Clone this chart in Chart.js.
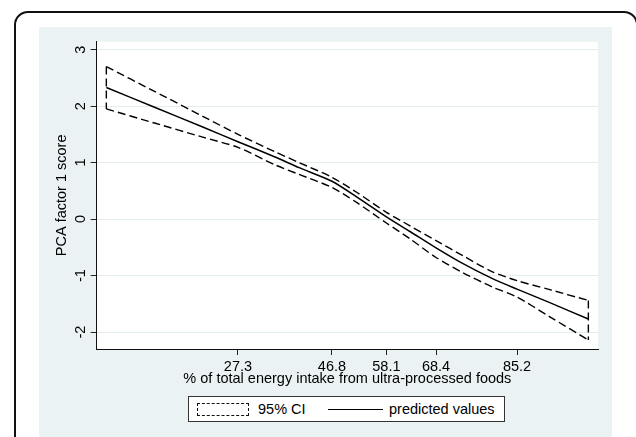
<!DOCTYPE html>
<html>
<head>
<meta charset="utf-8">
<script src="https://cdn.jsdelivr.net/npm/chart.js@4.4.1/dist/chart.umd.min.js"></script>
<style>
html,body{margin:0;padding:0;width:636px;height:437px;overflow:hidden;background:#fff;font-family:"Liberation Sans",Arial,sans-serif;}
#frame{position:absolute;left:14px;top:11px;width:624px;height:440px;box-sizing:border-box;border:2px solid #111;border-radius:14px;}
#panel{position:absolute;left:39px;top:27px;width:573px;height:420px;background:#eaf2f3;}
#c{position:absolute;left:0;top:0;}
#legend{position:absolute;left:188px;top:396px;width:317px;height:26px;box-sizing:border-box;border:1px solid #333;background:#fff;font-size:14.5px;color:#000;}
#legend .sym-ci{position:absolute;left:8px;top:6px;width:52px;height:13px;box-sizing:border-box;border:1px dashed #111;}
#legend .sym-pv{position:absolute;left:139px;top:12px;width:55px;height:0;border-top:1.4px solid #000;}
#legend .t{position:absolute;top:0;line-height:25px;white-space:nowrap;}
</style>
</head>
<body>
<div id="frame"></div>
<div id="panel"></div>
<canvas id="c" width="636" height="437"></canvas>
<div id="legend">
  <div class="sym-ci"></div><div class="t" style="left:69px">95% CI</div>
  <div class="sym-pv"></div><div class="t" style="left:200px">predicted values</div>
</div>
<script>
// ---- data ----
const xValues   = [0, 10, 20, 27.3, 35, 40, 46.8, 52, 58.1, 63, 68.4, 74, 80, 85.2, 92, 100];
const predicted = [2.33, 1.98, 1.63, 1.37, 1.10, 0.91, 0.67, 0.39, 0.04, -0.22, -0.51, -0.79, -1.05, -1.24, -1.48, -1.77];
const ciUpper   = [2.70, 2.26, 1.82, 1.50, 1.19, 1.00, 0.74, 0.47, 0.12, -0.12, -0.38, -0.65, -0.93, -1.09, -1.25, -1.44];
const ciLower   = [1.95, 1.70, 1.45, 1.27, 0.96, 0.79, 0.56, 0.29, -0.07, -0.35, -0.68, -0.95, -1.20, -1.38, -1.73, -2.14];
const xTickValues = [27.3, 46.8, 58.1, 68.4, 85.2];
const yTickValues = [-2, -1, 0, 1, 2, 3];
const xTitle = '% of total energy intake from ultra-processed foods';
const yTitle = 'PCA factor 1 score';

const FS = 14.5;
Chart.defaults.font.family = '"Liberation Sans", Arial, sans-serif';
Chart.defaults.font.size = FS;
Chart.defaults.color = '#000';

const pts = ys => xValues.map((x, i) => ({x: x, y: ys[i]}));
const last = xValues.length - 1;
const dash = [8, 4];
const lineStyle = {showLine: true, pointRadius: 0, borderColor: '#000', borderWidth: 1.4, fill: false, tension: 0.25};

const plotBg = {
  id: 'plotBg',
  beforeDraw(chart) {
    const a = chart.chartArea, ctx = chart.ctx;
    ctx.save(); ctx.fillStyle = '#fff';
    ctx.fillRect(a.left, a.top, a.right - a.left, a.bottom - a.top);
    ctx.restore();
  }
};
const rotY = {
  id: 'rotY',
  afterDraw(chart) {
    const s = chart.scales.y, ctx = chart.ctx;
    ctx.save();
    ctx.font = FS + 'px "Liberation Sans", Arial, sans-serif';
    ctx.fillStyle = '#000'; ctx.textAlign = 'center'; ctx.textBaseline = 'middle';
    s.ticks.forEach(t => {
      const py = s.getPixelForValue(t.value);
      ctx.save(); ctx.translate(s.right - 15.5, py); ctx.rotate(-Math.PI / 2);
      ctx.fillText(String(t.value), 0, 0); ctx.restore();
    });
    ctx.restore();
  }
};

new Chart(document.getElementById('c'), {
  type: 'scatter',
  data: {
    datasets: [
      Object.assign({label: '95% CI upper', data: pts(ciUpper), borderDash: dash}, lineStyle),
      Object.assign({label: '95% CI lower', data: pts(ciLower), borderDash: dash}, lineStyle),
      Object.assign({label: '95% CI start', data: [{x: xValues[0], y: ciUpper[0]}, {x: xValues[0], y: ciLower[0]}], borderDash: dash}, lineStyle, {tension: 0}),
      Object.assign({label: '95% CI end', data: [{x: xValues[last], y: ciUpper[last]}, {x: xValues[last], y: ciLower[last]}], borderDash: dash}, lineStyle, {tension: 0}),
      Object.assign({label: 'predicted values', data: pts(predicted)}, lineStyle, {borderWidth: 1.5})
    ]
  },
  options: {
    responsive: false,
    animation: false,
    layout: {padding: {left: 0, top: 41.7, right: 38, bottom: 0}},
    plugins: {legend: {display: false}, tooltip: {enabled: false}},
    scales: {
      x: {
        type: 'linear', position: 'bottom', min: -2, max: 102,
        afterBuildTicks: s => { s.ticks = xTickValues.map(v => ({value: v})); },
        afterFit: s => { s.height = 88; },
        ticks: {autoSkip: false, maxRotation: 0, minRotation: 0, padding: 3.5, color: '#000',
                callback: v => Number(v).toFixed(1)},
        grid: {drawOnChartArea: false, drawTicks: true, tickLength: 6, tickColor: '#222'},
        border: {display: true, color: '#111', width: 1},
        title: {display: true, text: xTitle, color: '#000', font: {size: FS}, padding: {top: 0, bottom: 49.3}}
      },
      y: {
        type: 'linear', position: 'left', min: -2.3, max: 3.14,
        afterBuildTicks: s => { s.ticks = yTickValues.map(v => ({value: v})); },
        afterFit: s => { s.width = 96.7; },
        ticks: {display: false},
        grid: {color: '#e3edf0', lineWidth: 1, drawTicks: true, tickLength: 6, tickColor: '#222'},
        border: {display: true, color: '#111', width: 1},
        title: {display: true, text: yTitle, color: '#000', font: {size: FS}, padding: {top: 53.5, bottom: 0}}
      }
    }
  },
  plugins: [plotBg, rotY]
});
</script>
</body>
</html>
